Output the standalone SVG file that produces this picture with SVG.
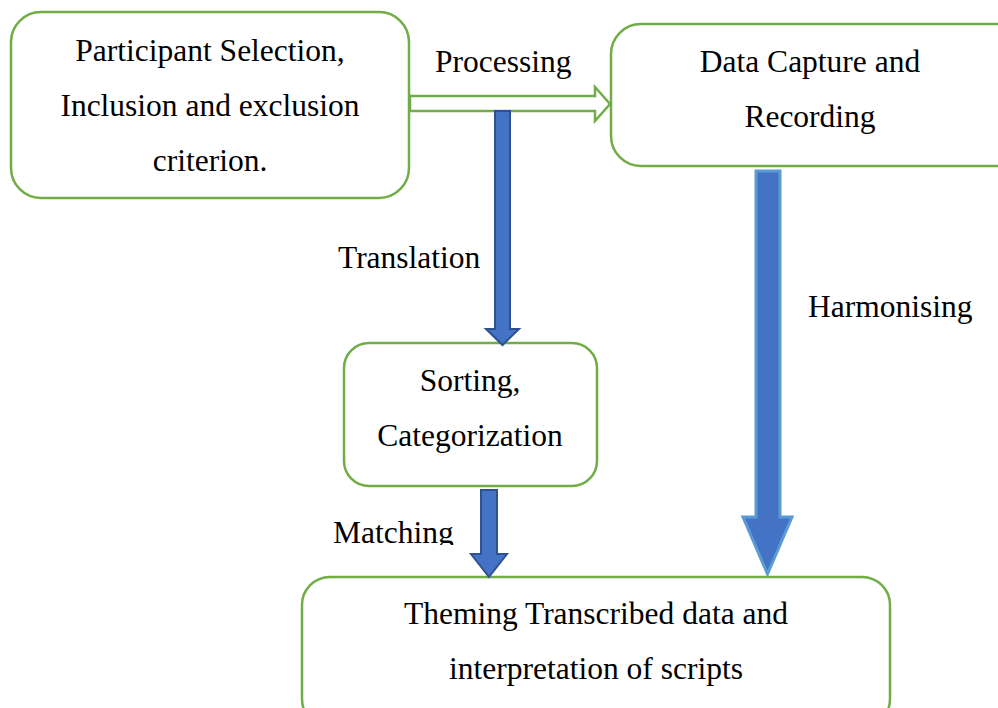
<svg xmlns="http://www.w3.org/2000/svg" width="998" height="708" viewBox="0 0 998 708">
<style>
.box{fill:#fff;stroke:#70AD47;stroke-width:2.5}
.t{font-family:"Liberation Serif",serif;font-size:31.5px;fill:#000;text-anchor:middle}
.l{font-family:"Liberation Serif",serif;font-size:31.5px;fill:#000}
.blue{fill:#4472C4;stroke:#2F528F;stroke-width:2}
.blue2{fill:#4472C4;stroke:#5B9BD5;stroke-width:3}
</style>
<defs><clipPath id="mclip"><rect x="320" y="500" width="150" height="45"/></clipPath></defs>
<rect width="998" height="708" fill="#fff"/>
<g id="n1"><rect class="box" x="11" y="12" width="398" height="186" rx="30"/>
<text class="t" x="210" y="61">Participant Selection,</text>
<text class="t" x="210" y="116">Inclusion and exclusion</text>
<text class="t" x="210" y="171">criterion.</text></g>
<g id="n2"><rect class="box" x="611" y="24" width="420" height="142" rx="30"/>
<text class="t" x="810" y="72">Data Capture and</text>
<text class="t" x="810" y="127">Recording</text></g>
<g id="n3"><rect class="box" x="344" y="343" width="253" height="143" rx="25"/>
<text class="t" x="470" y="391">Sorting,</text>
<text class="t" x="470" y="446">Categorization</text></g>
<g id="n4"><rect class="box" x="302" y="577" width="588" height="150" rx="28"/>
<text class="t" x="596" y="624">Theming Transcribed data and</text>
<text class="t" x="596" y="679">interpretation of scripts</text></g>
<g id="connectors">
<polygon points="410,96 595,96 595,87 610,104 595,121 595,111 410,111" fill="#fff" stroke="#70AD47" stroke-width="2.5"/>
<polygon class="blue" points="495,111 510,111 510,329 519,329 502.5,345 486,329 495,329"/>
<polygon class="blue2" points="756,171 780,171 780,517 792,517 767.5,574 743,517 756,517"/>
<polygon class="blue" points="481,490 497,490 497,554 507,554 489,577 471,554 481,554"/>
<text class="l" x="435" y="72">Processing</text>
<text class="l" x="338" y="268">Translation</text>
<text class="l" x="808" y="317">Harmonising</text>
<text class="l" x="333" y="543" clip-path="url(#mclip)">Matching</text>
</g>
</svg>
